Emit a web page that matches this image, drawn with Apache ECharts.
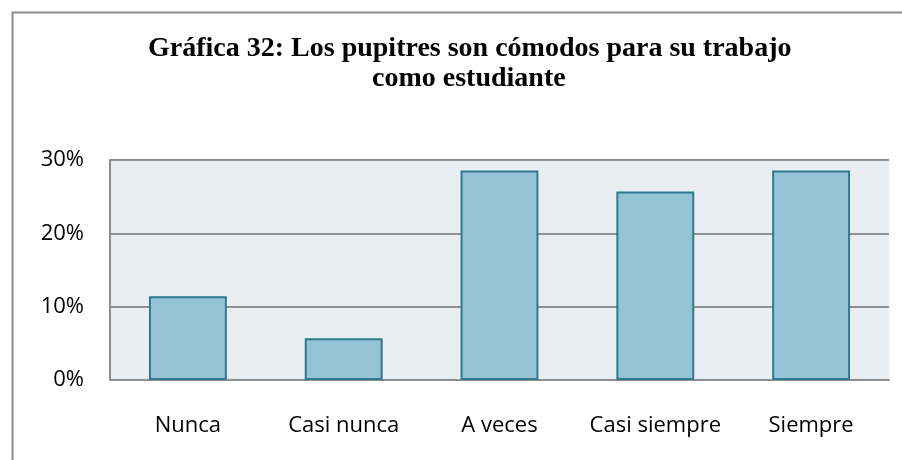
<!DOCTYPE html>
<html>
<head>
<meta charset="utf-8">
<script src="https://cdn.jsdelivr.net/npm/echarts@6/dist/echarts.min.js"></script>
<style>
html,body{margin:0;padding:0;background:#fff;}
#chart{width:902px;height:460px;}
</style>
</head>
<body>
<div id="chart"></div>
<script>
const titleLine1 = 'Gráfica 32: Los pupitres son cómodos para su trabajo';
const titleLine2 = 'como estudiante';
const categories = ['Nunca', 'Casi nunca', 'A veces', 'Casi siempre', 'Siempre'];
const values = [0.1143, 0.0571, 0.2857, 0.2571, 0.2857];
const yTicks = [0, 0.1, 0.2, 0.3];

const chart = echarts.init(document.getElementById('chart'), null, {renderer: 'canvas'});
chart.setOption({
  animation: false,
  backgroundColor: '#ffffff',
  title: [
    {text: titleLine1, left: 143, top: 30,
     textStyle: {fontFamily: 'Liberation Serif', fontWeight: 'bold', fontSize: 28, color: '#000'}},
    {text: titleLine2, left: 367, top: 60,
     textStyle: {fontFamily: 'Liberation Serif', fontWeight: 'bold', fontSize: 28, color: '#000'}}
  ],
  graphic: [{
    type: 'rect', left: 10, top: 10, z: 100, silent: true,
    shape: {x: 0, y: 0, width: 900, height: 460},
    style: {fill: 'none', stroke: '#8a8a8a', lineWidth: 2}
  }],
  grid: {left: 110, right: 13, top: 160, bottom: 80, show: true,
         backgroundColor: '#E8EEF2', borderWidth: 0},
  xAxis: {
    type: 'category', data: categories,
    axisLine: {show: true, lineStyle: {color: '#8f8f8f', width: 2}},
    axisTick: {show: false},
    axisLabel: {interval: 0, margin: 35, fontFamily: 'Open Sans', fontSize: 22, color: '#000'}
  },
  yAxis: {
    type: 'value', min: yTicks[0], max: yTicks[yTicks.length - 1], interval: 0.1,
    axisLine: {show: true, lineStyle: {color: '#8f8f8f', width: 2}},
    axisTick: {show: false},
    splitLine: {show: true, lineStyle: {color: '#8f8f8f', width: 2}},
    axisLabel: {margin: 26, fontFamily: 'Open Sans', fontSize: 22, color: '#000',
      formatter: v => Math.round(v * 100) + '%'}
  },
  series: [{
    type: 'bar', data: values, barWidth: '50%',
    itemStyle: {color: '#93C3D5', borderColor: '#31798F', borderWidth: 2}
  }]
});
</script>
</body>
</html>
